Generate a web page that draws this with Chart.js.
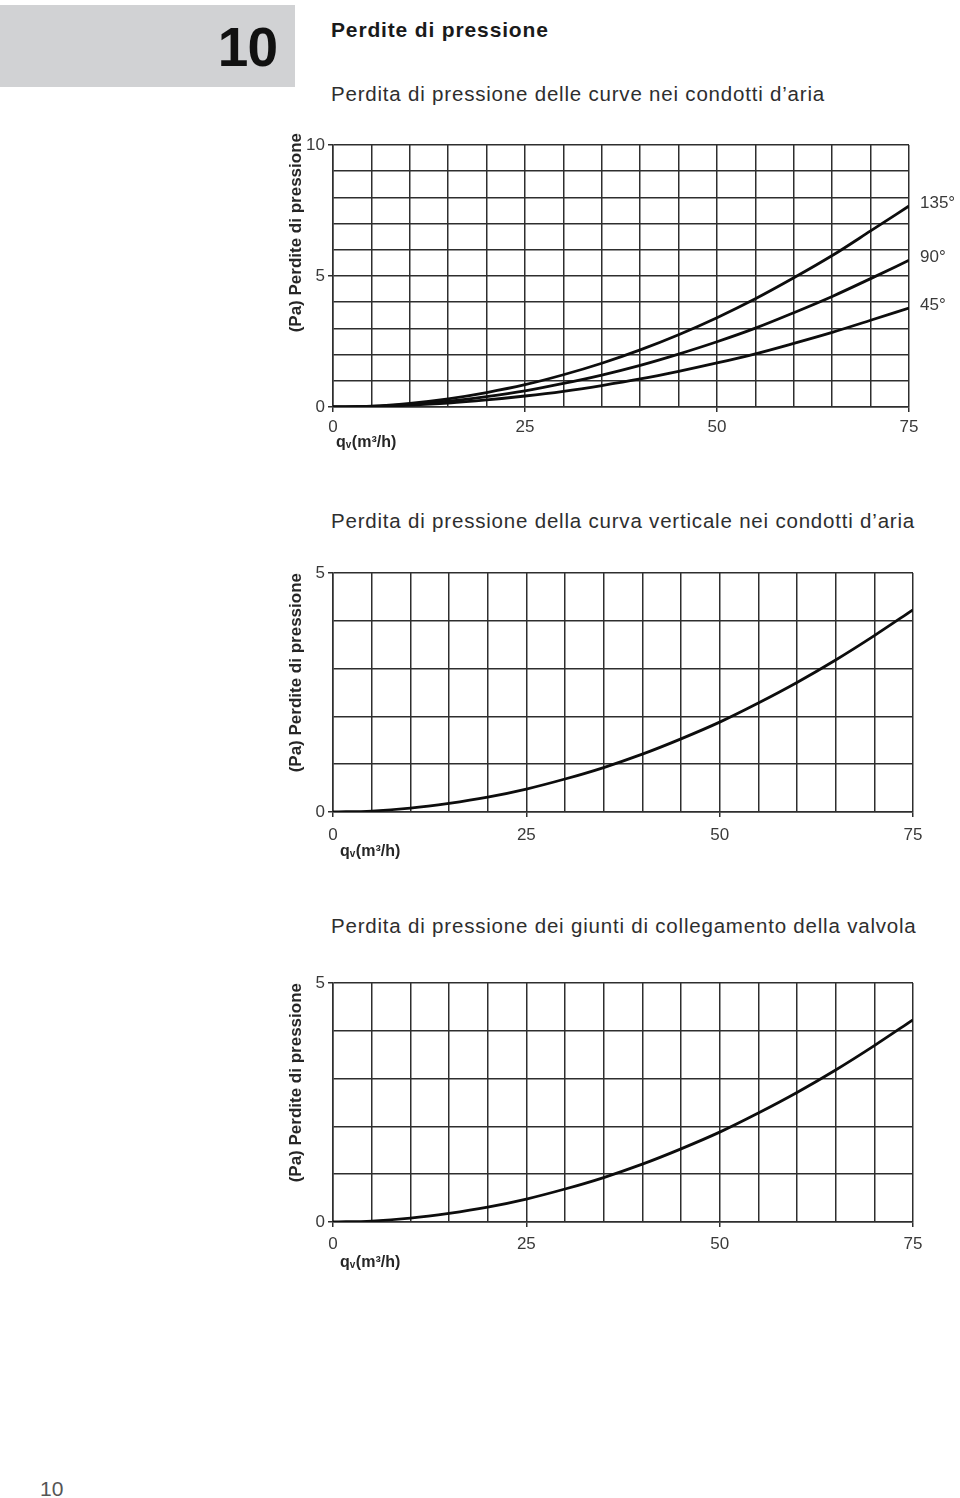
<!DOCTYPE html>
<html>
<head>
<meta charset="utf-8">
<title>Perdite di pressione</title>
<script src="https://cdn.jsdelivr.net/npm/chart.js@4.4.1/dist/chart.umd.min.js"></script>
<style>
  html, body { margin: 0; padding: 0; background: #ffffff; }
  body { width: 960px; height: 1498px; position: relative; overflow: hidden;
         font-family: "Liberation Sans", Arial, Helvetica, sans-serif; }
  .box { position: absolute; left: 0; top: 5px; width: 295px; height: 82px; background: #d1d2d4; }
  .t { position: absolute; white-space: nowrap; line-height: 1; }
  .num { right: 683px; top: 20px; font-size: 55px; font-weight: bold; color: #111; letter-spacing: -1px; }
  .h1 { left: 331px; top: 19px; font-size: 21px; font-weight: bold; color: #1a1a1a; letter-spacing: 0.85px; }
  .sub { left: 331px; font-size: 20.5px; color: #2e2e2e; letter-spacing: 0.8px; }
  .page { left: 40px; top: 1478px; font-size: 21px; color: #555; }
  canvas { position: absolute; }
</style>
</head>
<body>
<script>
// ---------------- DATA ----------------
const flow = [0, 5, 10, 15, 20, 25, 30, 35, 40, 45, 50, 55, 60, 65, 70, 75];      // qv (m³/h)
const loss135 = [0, 0.03, 0.14, 0.31, 0.55, 0.85, 1.23, 1.67, 2.18, 2.76, 3.41, 4.13, 4.93, 5.78, 6.72, 7.67];
const loss90  = [0, 0.02, 0.10, 0.22, 0.40, 0.62, 0.90, 1.22, 1.59, 2.02, 2.49, 3.01, 3.60, 4.22, 4.90, 5.60];
const loss45  = [0, 0.02, 0.07, 0.15, 0.27, 0.42, 0.60, 0.82, 1.07, 1.36, 1.68, 2.03, 2.43, 2.85, 3.31, 3.78];
const lossVertical = [0, 0.02, 0.08, 0.18, 0.31, 0.48, 0.69, 0.93, 1.21, 1.53, 1.88, 2.28, 2.71, 3.18, 3.69, 4.23];
const lossValve    = [0, 0.02, 0.08, 0.18, 0.31, 0.48, 0.69, 0.93, 1.21, 1.53, 1.88, 2.28, 2.71, 3.18, 3.69, 4.23];
const curveNames = ['135°', '90°', '45°'];
const xTickLabels = [0, 25, 50, 75];
const yTickLabels1 = [0, 5, 10];
const yTickLabels2 = [0, 5];
const yTitle = '(Pa) Perdite di pressione';
const xTitleMain = 'q', xTitleSub = 'v', xTitleRest = '(m³/h)';
const pageTitle = 'Perdite di pressione';
const chapterNumber = '10';
const subTitles = [
  'Perdita di pressione delle curve nei condotti d’aria',
  'Perdita di pressione della curva verticale nei condotti d’aria',
  'Perdita di pressione dei giunti di collegamento della valvola'
];
const pageNumber = '10';

// ---------------- PAGE TEXT ----------------
function addDiv(cls, text, style) {
  const d = document.createElement('div');
  d.className = cls; d.textContent = text;
  if (style) d.setAttribute('style', style);
  document.body.appendChild(d);
}
addDiv('box', '');
addDiv('t num', chapterNumber);
addDiv('t h1', pageTitle);
addDiv('t sub', subTitles[0], 'top:84px');
addDiv('t sub', subTitles[1], 'top:511px');
addDiv('t sub', subTitles[2], 'top:916px');
addDiv('t page', pageNumber);

// ---------------- CHARTS ----------------
const FONT = '"Liberation Sans", Arial, Helvetica, sans-serif';
const GRID = '#2e2e2e';
const INK = '#3a3a3a';

const overlayPlugin = {
  id: 'overlay',
  afterDraw(chart, args, opts) {
    const { ctx, chartArea } = chart;
    // y-axis title (rotated)
    ctx.save();
    ctx.font = 'bold 17px ' + FONT;
    ctx.fillStyle = '#262626';
    ctx.translate(opts.yTitleX, chartArea.top + opts.yTitleTop);
    ctx.rotate(-Math.PI / 2);
    ctx.textAlign = 'right';
    ctx.textBaseline = 'middle';
    ctx.fillText(yTitle, 0, 0);
    ctx.restore();
    // x-axis title with subscript
    ctx.save();
    ctx.fillStyle = '#262626';
    ctx.textBaseline = 'alphabetic';
    ctx.textAlign = 'left';
    let x = chartArea.left + opts.xTitleDx;
    const yb = chartArea.bottom + opts.xTitleDy;
    ctx.font = 'bold 16px ' + FONT;
    ctx.fillText(xTitleMain, x, yb);
    x += ctx.measureText(xTitleMain).width;
    ctx.font = 'bold 10px ' + FONT;
    ctx.fillText(xTitleSub, x, yb + 1);
    x += ctx.measureText(xTitleSub).width + 0.5;
    ctx.font = 'bold 16px ' + FONT;
    ctx.fillText(xTitleRest, x, yb);
    ctx.restore();
    // curve end labels
    if (opts.endLabels) {
      ctx.save();
      ctx.font = '17px ' + FONT;
      ctx.fillStyle = INK;
      ctx.textAlign = 'left';
      ctx.textBaseline = 'middle';
      chart.data.datasets.forEach((ds, i) => {
        const meta = chart.getDatasetMeta(i);
        const last = meta.data[meta.data.length - 1];
        ctx.fillText(ds.label, chartArea.right + 11, last.y - 3);
      });
      ctx.restore();
    }
  }
};

function makeChart(cfg) {
  const c = document.createElement('canvas');
  c.width = cfg.w; c.height = cfg.h;
  c.style.left = cfg.left + 'px'; c.style.top = cfg.top + 'px';
  c.style.width = cfg.w + 'px'; c.style.height = cfg.h + 'px';
  document.body.appendChild(c);
  const datasets = cfg.series.map(s => ({
    label: s.name,
    data: flow.map((q, j) => ({ x: q, y: s.values[j] })),
    borderColor: '#0d0d0d',
    borderWidth: 2.8,
    pointRadius: 0,
    fill: false,
    cubicInterpolationMode: 'monotone'
  }));
  new Chart(c, {
    type: 'line',
    data: { datasets },
    options: {
      responsive: false,
      animation: false,
      devicePixelRatio: 1,
      layout: { padding: { left: 0, top: cfg.padTop, right: cfg.padRight, bottom: cfg.padBottom } },
      plugins: {
        legend: { display: false },
        tooltip: { enabled: false },
        overlay: cfg.overlay
      },
      scales: {
        x: {
          type: 'linear', min: 0, max: 75,
          ticks: {
            stepSize: 5, autoSkip: false, maxRotation: 0, padding: cfg.xLabelPad,
            color: INK, font: { family: FONT, size: 17 },
            callback: v => xTickLabels.includes(v) ? String(v) : ''
          },
          grid: {
            color: GRID, lineWidth: 1.5, tickLength: 5,
            tickColor: ctx => (ctx.tick && xTickLabels.includes(ctx.tick.value)) ? GRID : 'rgba(0,0,0,0)'
          },
          border: { color: GRID, width: 1.5 },
          afterFit: s => { s.height = cfg.xH; }
        },
        y: {
          type: 'linear', min: 0, max: cfg.yMax,
          ticks: {
            stepSize: 1, autoSkip: false, padding: 3,
            color: INK, font: { family: FONT, size: 17 },
            callback: v => cfg.yLabels.includes(v) ? String(v) : ''
          },
          grid: {
            color: GRID, lineWidth: 1.5, tickLength: 5,
            tickColor: ctx => (ctx.tick && cfg.yLabels.includes(ctx.tick.value)) ? GRID : 'rgba(0,0,0,0)'
          },
          border: { color: GRID, width: 1.5 },
          afterFit: s => { s.width = cfg.yW; }
        }
      }
    },
    plugins: [overlayPlugin]
  });
}

// Chart 1: bends (135°, 90°, 45°)
makeChart({
  left: 260, top: 120, w: 700, h: 350,
  padTop: 25, padRight: 51, padBottom: 13, xH: 50, yW: 73,
  yMax: 10, yLabels: yTickLabels1, xLabelPad: 5,
  series: [
    { name: curveNames[0], values: loss135 },
    { name: curveNames[1], values: loss90 },
    { name: curveNames[2], values: loss45 }
  ],
  overlay: { yTitleX: 36, yTitleTop: -12, xTitleDx: 3, xTitleDy: 40, endLabels: true }
});

// Chart 2: vertical bend
makeChart({
  left: 260, top: 550, w: 700, h: 320,
  padTop: 23, padRight: 47, padBottom: 8, xH: 50, yW: 73,
  yMax: 5, yLabels: yTickLabels2, xLabelPad: 8,
  series: [ { name: 'verticale', values: lossVertical } ],
  overlay: { yTitleX: 36, yTitleTop: 0, xTitleDx: 7, xTitleDy: 44, endLabels: false }
});

// Chart 3: valve connection joints
makeChart({
  left: 260, top: 960, w: 700, h: 320,
  padTop: 23, padRight: 47, padBottom: 8, xH: 50, yW: 73,
  yMax: 5, yLabels: yTickLabels2, xLabelPad: 7,
  series: [ { name: 'valvola', values: lossValve } ],
  overlay: { yTitleX: 36, yTitleTop: 0, xTitleDx: 7, xTitleDy: 45, endLabels: false }
});
</script>
</body>
</html>
